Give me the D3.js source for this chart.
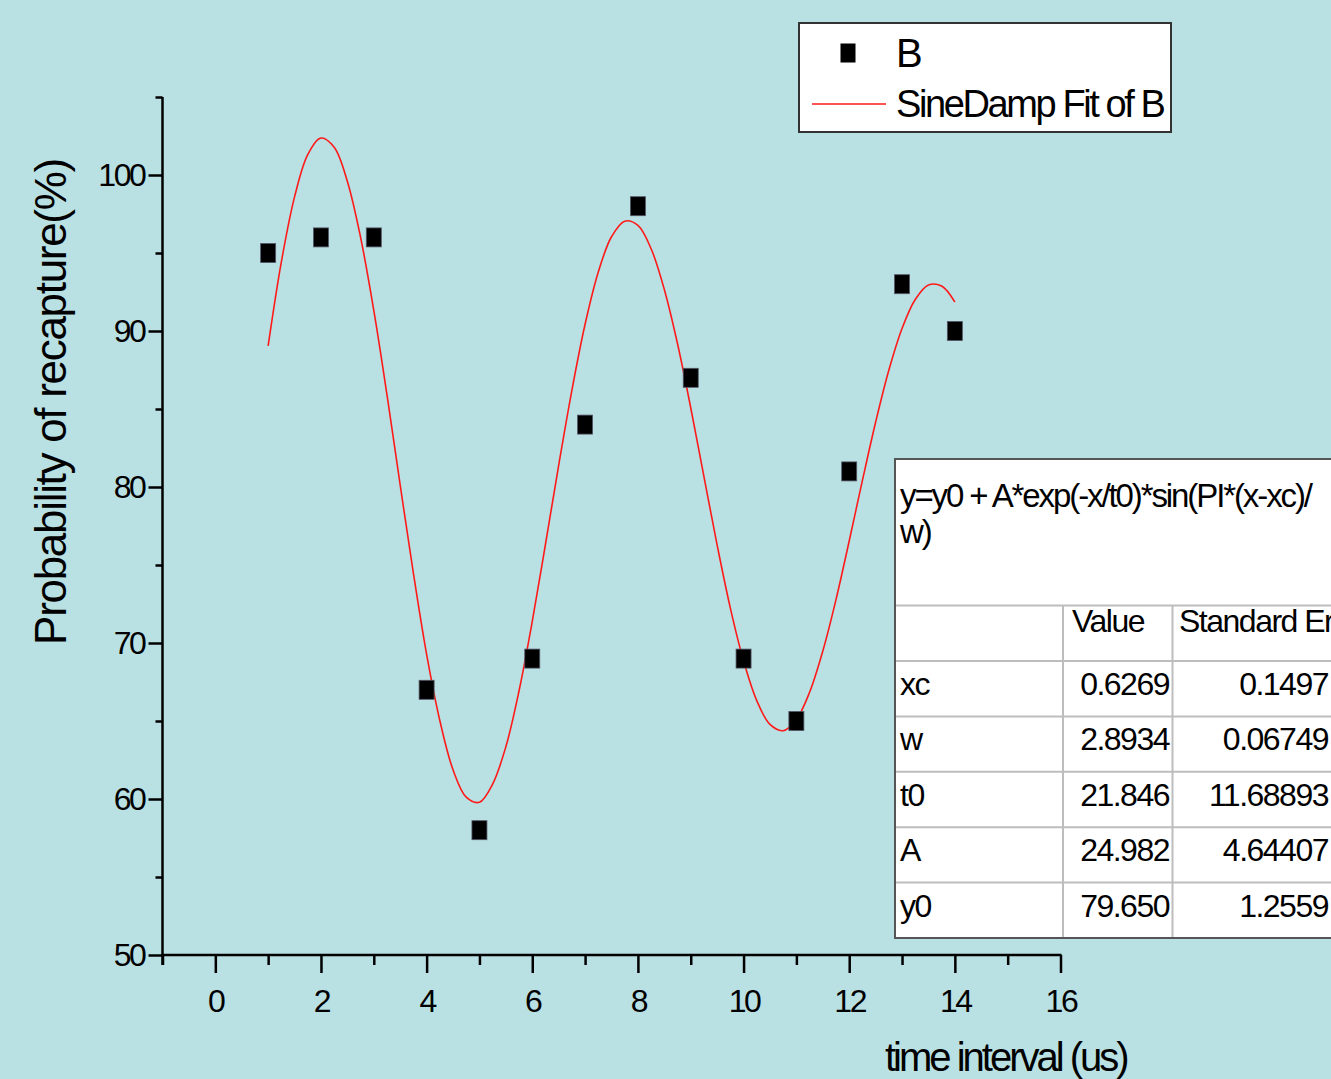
<!DOCTYPE html>
<html>
<head>
<meta charset="utf-8">
<script src="https://cdn.jsdelivr.net/npm/d3@7"></script>
<style>
  html, body { margin: 0; padding: 0; background: #b9e0e3; }
  svg { display: block; font-family: "Liberation Sans", Arial, sans-serif; }
</style>
</head>
<body>
<svg id="chart" width="1331" height="1079"></svg>
<script>
// ---- data ----
const pointX = [1, 2, 3, 4, 5, 6, 7, 8, 9, 10, 11, 12, 13, 14];
const pointY = [95, 96, 96, 67, 58, 69, 84, 98, 87, 69, 65, 81, 93, 90];

const fitX = [1, 1.25, 1.5, 1.75, 2, 2.25, 2.5, 2.75, 3, 3.25, 3.5, 3.75, 4, 4.25, 4.5, 4.75,
  5, 5.25, 5.5, 5.75, 6, 6.25, 6.5, 6.75, 7, 7.25, 7.5, 7.75, 8, 8.25, 8.5, 8.75,
  9, 9.25, 9.5, 9.75, 10, 10.25, 10.5, 10.75, 11, 11.25, 11.5, 11.75, 12, 12.25, 12.5, 12.75,
  13, 13.25, 13.5, 13.75, 14];
const fitY = [89.05, 94.43, 98.60, 101.31, 102.37, 101.78, 99.59, 96.00, 91.32, 85.90, 80.12, 74.46,
  69.27, 65.03, 61.87, 60.12, 59.79, 60.96, 63.35, 66.94, 71.38, 76.33, 81.39, 86.20,
  90.43, 93.78, 96.04, 97.04, 96.77, 95.27, 92.66, 89.18, 85.08, 80.66, 76.28, 72.24,
  68.86, 66.31, 64.78, 64.38, 65.10, 66.84, 69.48, 72.78, 76.54, 80.42, 84.15, 87.48,
  90.16, 92.02, 92.95, 92.88, 91.86];

const xMajorTicks = [0, 2, 4, 6, 8, 10, 12, 14, 16];
const xMinorTicks = [-1, 1, 3, 5, 7, 9, 11, 13, 15];
const yMajorTicks = [50, 60, 70, 80, 90, 100];
const yMinorTicks = [55, 65, 75, 85, 95, 105];

const legendLabels = ["B", "SineDamp Fit of B"];
const formulaLines = ["y=y0 + A*exp(-x/t0)*sin(PI*(x-xc)/", "w)"];
const tableHeader = ["", "Value", "Standard Error"];
const paramNames = ["xc", "w", "t0", "A", "y0"];
const paramValues = ["0.6269", "2.8934", "21.846", "24.982", "79.650"];
const paramErrors = ["0.1497", "0.06749", "11.68893", "4.64407", "1.2559"];

// ---- layout ----
const svg = d3.select("#chart");
const W = 1331, H = 1079;
svg.append("rect").attr("width", W).attr("height", H).attr("fill", "#b9e0e3");

const x = d3.scaleLinear().domain([-1, 16]).range([162.5, 1060.5]);
const y = d3.scaleLinear().domain([50, 105]).range([955, 97]);

const tickFont = 32;

const gxMinor = svg.append("g").attr("transform", "translate(0,955)")
  .call(d3.axisBottom(x).tickValues(xMinorTicks).tickSize(10).tickFormat(""));
const gx = svg.append("g").attr("transform", "translate(0,955)")
  .call(d3.axisBottom(x).tickValues(xMajorTicks).tickSize(18).tickPadding(16).tickFormat(d3.format("d")));
const gyMinor = svg.append("g").attr("transform", "translate(162.5,0)")
  .call(d3.axisLeft(y).tickValues(yMinorTicks).tickSize(7).tickFormat(""));
const gy = svg.append("g").attr("transform", "translate(162.5,0)")
  .call(d3.axisLeft(y).tickValues(yMajorTicks).tickSize(14).tickPadding(4).tickFormat(d3.format("d")));

[gxMinor, gx, gyMinor, gy].forEach(g => {
  g.select(".domain").remove();
  g.selectAll(".tick line").attr("stroke", "#000").attr("stroke-width", 2.5);
  g.selectAll(".tick text").attr("fill", "#000").style("font-size", tickFont + "px")
    .style("letter-spacing", "-2.4px")
    .style("font-family", "'Liberation Sans', Arial, sans-serif");
});

// axis lines
svg.append("line").attr("x1", x(-1)).attr("x2", x(-1)).attr("y1", y(105)).attr("y2", 965)
  .attr("stroke", "#000").attr("stroke-width", 2.5);
svg.append("line").attr("x1", x(-1) - 1).attr("x2", x(16) + 1).attr("y1", y(50)).attr("y2", y(50))
  .attr("stroke", "#000").attr("stroke-width", 2.5);

// axis titles
svg.append("text").attr("transform", "translate(66,402) rotate(-90)")
  .attr("text-anchor", "middle").style("font-size", "44px").style("letter-spacing", "-1.3px")
  .attr("fill", "#000").text("Probability of recapture(%)");
svg.append("text").attr("x", 885).attr("y", 1071)
  .style("font-size", "40px").style("letter-spacing", "-3px")
  .attr("fill", "#000").text("time interval (us)");

// fit curve
const line = d3.line().x((d, i) => x(fitX[i])).y(d => y(d)).curve(d3.curveCatmullRom);
svg.append("path").datum(fitY).attr("d", line)
  .attr("fill", "none").attr("stroke", "#ff1a1a").attr("stroke-width", 1.6);

// points
const mw = 15, mh = 19;
svg.append("g").selectAll("rect").data(pointY).join("rect")
  .attr("x", (d, i) => x(pointX[i]) - mw / 2)
  .attr("y", d => y(d) - mh / 2)
  .attr("width", mw).attr("height", mh)
  .attr("fill", "#000").attr("stroke", "#556").attr("stroke-width", 0.8);

// legend
const lg = svg.append("g");
lg.append("rect").attr("x", 799).attr("y", 23).attr("width", 372).attr("height", 109)
  .attr("fill", "#fff").attr("stroke", "#333").attr("stroke-width", 2);
lg.append("rect").attr("x", 848 - mw / 2).attr("y", 53 - mh / 2).attr("width", mw).attr("height", mh).attr("fill", "#000");
lg.append("text").attr("x", 896).attr("y", 67).style("font-size", "40px").attr("fill", "#000").text(legendLabels[0]);
lg.append("line").attr("x1", 812).attr("x2", 886).attr("y1", 104).attr("y2", 104)
  .attr("stroke", "#ff1a1a").attr("stroke-width", 1.6);
lg.append("text").attr("x", 896).attr("y", 117).style("font-size", "38px").style("letter-spacing", "-2.4px")
  .attr("fill", "#000").text(legendLabels[1]);

// parameter table
const tg = svg.append("g");
const tL = 895, tT = 459, tR = 1345, tB = 938;
const col1 = 1063, col2 = 1172.5;
const headY = 605.5, rowTop = 661, rowH = 55.4;
tg.append("rect").attr("x", tL).attr("y", tT).attr("width", tR - tL).attr("height", tB - tT)
  .attr("fill", "#fff");
const inner = "#bdbdbd";
const hLines = [headY].concat(paramNames.map((d, i) => rowTop + i * rowH));
tg.selectAll("line.h").data(hLines).join("line").attr("class", "h")
  .attr("x1", tL).attr("x2", tR).attr("y1", d => d).attr("y2", d => d)
  .attr("stroke", inner).attr("stroke-width", 2);
tg.selectAll("line.v").data([col1, col2]).join("line").attr("class", "v")
  .attr("x1", d => d).attr("x2", d => d).attr("y1", headY).attr("y2", tB)
  .attr("stroke", inner).attr("stroke-width", 2);
tg.append("rect").attr("x", tL).attr("y", tT).attr("width", tR - tL).attr("height", tB - tT)
  .attr("fill", "none").attr("stroke", "#555").attr("stroke-width", 2);

// formula
tg.selectAll("text.f").data(formulaLines).join("text").attr("class", "f")
  .attr("x", 900).attr("y", (d, i) => 507 + i * 36)
  .style("font-size", "33px").style("letter-spacing", "-2.1px").attr("fill", "#000").text(d => d);

const cellFont = "32px", cellSp = "-1.5px";
tg.append("text").attr("x", 1072).attr("y", 632).style("font-size", cellFont).style("letter-spacing", cellSp)
  .attr("fill", "#000").text(tableHeader[1]);
tg.append("text").attr("x", 1179).attr("y", 632).style("font-size", cellFont).style("letter-spacing", cellSp)
  .attr("fill", "#000").text(tableHeader[2]);

paramNames.forEach((n, i) => {
  const by = 695 + i * rowH;
  tg.append("text").attr("x", 900).attr("y", by).style("font-size", cellFont).style("letter-spacing", cellSp)
    .attr("fill", "#000").text(n);
  tg.append("text").attr("x", 1169).attr("y", by).attr("text-anchor", "end")
    .style("font-size", cellFont).style("letter-spacing", cellSp).attr("fill", "#000").text(paramValues[i]);
  tg.append("text").attr("x", 1328).attr("y", by).attr("text-anchor", "end")
    .style("font-size", cellFont).style("letter-spacing", cellSp).attr("fill", "#000").text(paramErrors[i]);
});
</script>
</body>
</html>
